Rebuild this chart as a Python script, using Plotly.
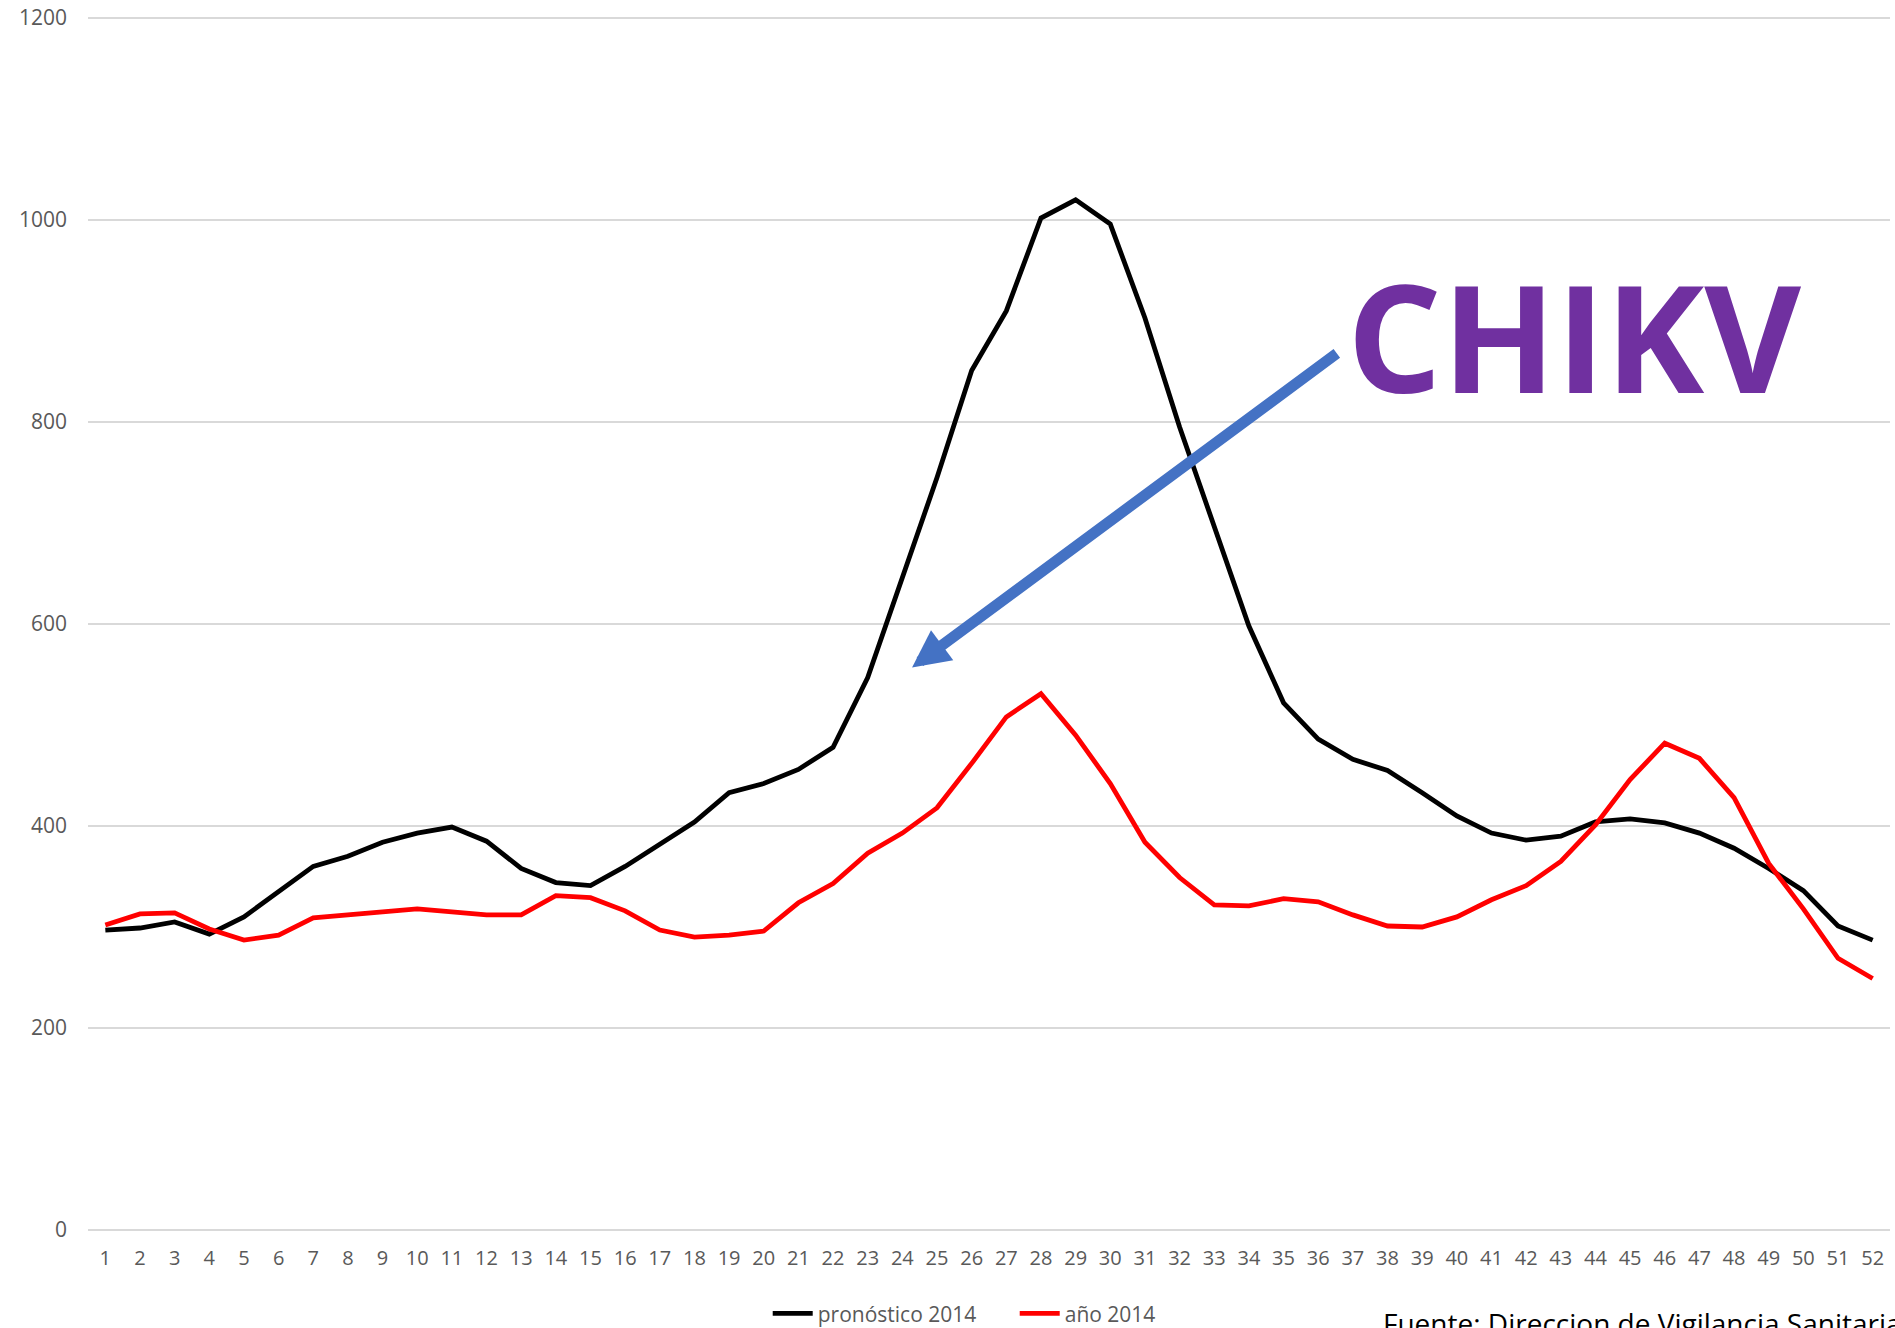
import plotly.graph_objects as go

weeks = list(range(1, 53))
week_labels = [str(w) for w in weeks]
pronostico_2014 = [297, 299, 305, 293, 310, 335, 360, 370, 384, 393, 399, 385, 358, 344, 341,
                   360, 382, 404, 433, 442, 456, 478, 547, 645, 745, 851, 910, 1002, 1020, 996,
                   903, 795, 698, 598, 522, 486, 466, 455, 433, 410, 393, 386, 390, 404, 407,
                   403, 393, 378, 358, 336, 301, 287]
anio_2014 = [302, 313, 314, 298, 287, 292, 309, 312, 315, 318, 315, 312, 312, 331, 329,
             316, 297, 290, 292, 296, 324, 343, 373, 393, 418, 462, 508, 531, 490, 442,
             384, 349, 322, 321, 328, 325, 312, 301, 300, 310, 327, 341, 365, 401, 446,
             482, 467, 428, 363, 318, 269, 249]
y_ticks = [0, 200, 400, 600, 800, 1000, 1200]

FONT = "Open Sans"
TICK_COLOR = "#595959"

fig = go.Figure()
fig.add_trace(go.Scatter(x=weeks, y=pronostico_2014, mode="lines", name="pronóstico 2014",
                         line=dict(color="#000000", width=4.8)))
fig.add_trace(go.Scatter(x=weeks, y=anio_2014, mode="lines", name="año 2014",
                         line=dict(color="#FF0000", width=4.8)))

fig.update_layout(
    width=1895, height=1328,
    margin=dict(l=88, r=5, t=16, b=98, autoexpand=False),
    paper_bgcolor="white", plot_bgcolor="white",
    font=dict(family=FONT, color=TICK_COLOR),
    showlegend=True,
    legend=dict(orientation="h", x=0.3772, xanchor="left", y=-0.069, yanchor="middle",
                font=dict(size=21, color=TICK_COLOR, family=FONT), itemwidth=40,
                entrywidth=192, entrywidthmode="pixels"),
)
fig.update_xaxes(range=[0.5, 52.5], tickmode="array", tickvals=weeks, ticktext=week_labels,
                 showgrid=False, zeroline=False, showline=False,
                 tickfont=dict(size=20, color=TICK_COLOR, family=FONT),
                 ticks="", ticklabelstandoff=14)
fig.update_yaxes(range=[0, 1202], tickmode="array", tickvals=y_ticks,
                 showgrid=True, gridcolor="#D9D9D9", gridwidth=1.8,
                 zeroline=True, zerolinecolor="#D9D9D9", zerolinewidth=1.8,
                 showline=False, ticks="",
                 tickfont=dict(size=21, color=TICK_COLOR, family=FONT),
                 ticklabelstandoff=20)

# arrow
fig.add_annotation(x=24.28, y=557, ax=36.58, ay=869, xref="x", yref="y", axref="x", ayref="y",
                   showarrow=True, text="", arrowhead=2, arrowwidth=11, arrowsize=0.68,
                   arrowcolor="#4472C4", standoff=0, startstandoff=0)
# CHIKV label
fig.add_annotation(x=43.39, y=886, xref="x", yref="y", text="<b>CHIKV</b>", showarrow=False,
                   xanchor="center", yanchor="middle",
                   font=dict(family=FONT, size=149, color="#7030A0"))
# source note
fig.add_annotation(x=0.7175, y=-0.0767, xref="paper", yref="paper", xanchor="left", yanchor="middle",
                   text="Fuente: Direccion de Vigilancia Sanitaria", showarrow=False,
                   font=dict(family=FONT, size=28, color="#000000"))

fig.write_html("out.html", config={"displayModeBar": False},
               post_script="document.body.style.margin='0';document.body.style.overflow='hidden';")
